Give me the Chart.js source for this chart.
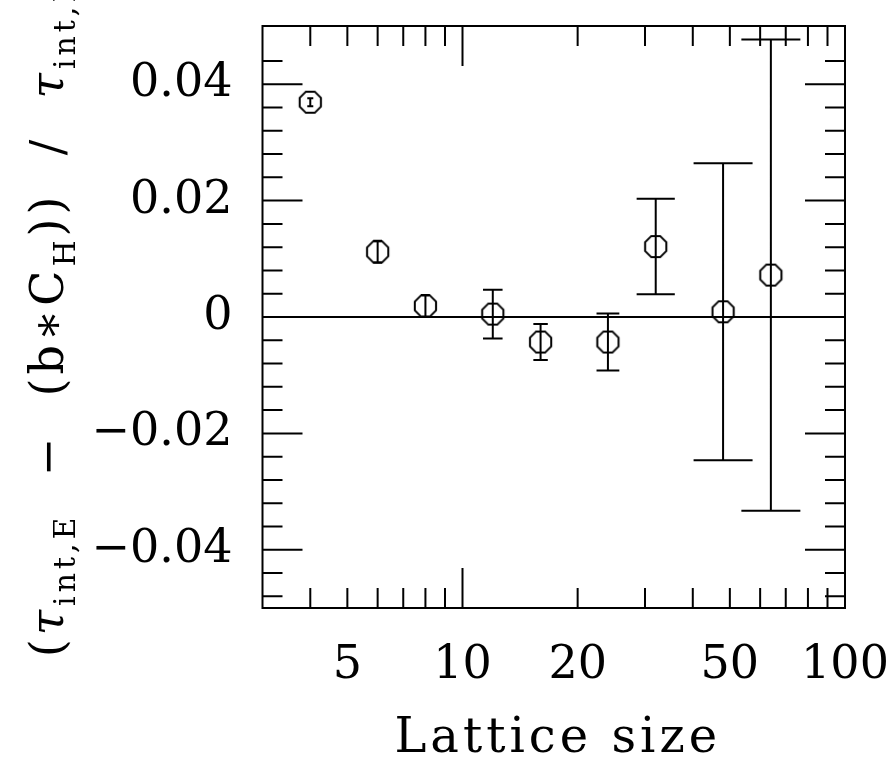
<!DOCTYPE html>
<html>
<head>
<meta charset="utf-8">
<script src="https://cdn.jsdelivr.net/npm/chart.js@4"></script>
<style>
  body { margin: 0; background: #fff; }
  canvas { display: block; }
</style>
</head>
<body>
<canvas id="myChart" width="894" height="764"></canvas>
<script>
// lattice sizes and the relative difference, with symmetric errors
const latticeSizes = [4, 6, 8, 12, 16, 24, 32, 48, 64];
const ratioValues = [0.0369, 0.0112, 0.0019, 0.0005, -0.0043, -0.0043, 0.0121, 0.0009, 0.0072];
const ratioErrors = [0.0007, 0.0019, 0.0019, 0.0042, 0.0031, 0.0049, 0.0082, 0.0255, 0.0405];

// tick labels
const xTickValues = [5, 10, 20, 50, 100];
const yTickValues = [-0.04, -0.02, 0, 0.02, 0.04];

const FONT = "'DejaVu Serif', serif";

// octagon marker, open
function makeOctagon(r) {
    const size = Math.ceil(r * 2 + 4);
    const c = document.createElement('canvas');
    c.width = size; c.height = size;
    const g = c.getContext('2d');
    g.strokeStyle = '#000';
    g.lineWidth = 2;
    g.beginPath();
    for (let k = 0; k < 8; k++) {
        const a = Math.PI / 8 + k * Math.PI / 4;
        const px = size / 2 + r * Math.cos(a);
        const py = size / 2 + r * Math.sin(a);
        if (k === 0) g.moveTo(px, py); else g.lineTo(px, py);
    }
    g.closePath();
    g.stroke();
    return c;
}

// frame, inside ticks, zero line, error bars and titles
const framePlugin = {
    id: 'frame',
    afterDatasetsDraw(chart) {
        const ctx = chart.ctx;
        const a = chart.chartArea;
        const xs = chart.scales.x, ys = chart.scales.y;
        ctx.save();
        ctx.strokeStyle = '#000';
        ctx.lineWidth = 2;
        ctx.lineCap = 'butt';
        ctx.beginPath();
        // zero line
        const y0 = ys.getPixelForValue(0);
        ctx.moveTo(a.left, y0); ctx.lineTo(a.right, y0);
        // error bars
        latticeSizes.forEach((n, i) => {
            const px = xs.getPixelForValue(n);
            const top = ys.getPixelForValue(ratioValues[i] + ratioErrors[i]);
            const bot = ys.getPixelForValue(ratioValues[i] - ratioErrors[i]);
            const half = (bot - top) / 2;
            const cap = Math.max(3, Math.min(0.4 * half, 29.5));
            ctx.moveTo(px, top); ctx.lineTo(px, bot);
            ctx.moveTo(px - cap, top); ctx.lineTo(px + cap, top);
            ctx.moveTo(px - cap, bot); ctx.lineTo(px + cap, bot);
        });
        // x ticks top and bottom
        for (let d = 1; d <= 10; d *= 10) {
            for (let m = 1; m <= 9; m++) {
                const v = m * d;
                if (v <= 3 || v >= 100) continue;
                const px = xs.getPixelForValue(v);
                const len = (m === 1) ? 40 : 20;
                ctx.moveTo(px, a.top); ctx.lineTo(px, a.top + len);
                ctx.moveTo(px, a.bottom); ctx.lineTo(px, a.bottom - len);
            }
        }
        // y ticks left and right
        for (let k = -12; k <= 11; k++) {
            const py = ys.getPixelForValue(k * 0.004);
            const len = (k % 5 === 0) ? 40 : 20;
            ctx.moveTo(a.left, py); ctx.lineTo(a.left + len, py);
            ctx.moveTo(a.right, py); ctx.lineTo(a.right - len, py);
        }
        ctx.stroke();
        ctx.strokeRect(a.left, a.top, a.right - a.left, a.bottom - a.top);
        ctx.restore();
    },
    afterDraw(chart) {
        const ctx = chart.ctx;
        const a = chart.chartArea;
        ctx.save();
        ctx.fillStyle = '#000';
        // x title
        ctx.font = '48px ' + FONT;
        ctx.letterSpacing = '4px';
        ctx.textAlign = 'center';
        ctx.textBaseline = 'alphabetic';
        ctx.fillText('Lattice size', (a.left + a.right) / 2 + 4, 752);
        // y title with subscripts, rotated
        const main = '46px ' + FONT, sub = '30px ' + FONT, tau = 'italic 46px ' + FONT;
        const parts = [
            ['(', main], ['\u03C4', tau], ['int,E', sub],
            ['  \u2212  (b\u2217C', main], ['H', sub],
            ['))  /  ', main], ['\u03C4', tau], ['int,E', sub]
        ];
        ctx.letterSpacing = '4px';
        ctx.textAlign = 'left';
        let total = 0;
        parts.forEach(p => { ctx.font = p[1]; total += ctx.measureText(p[0]).width; });
        ctx.translate(63, (a.top + a.bottom) / 2);
        ctx.rotate(-Math.PI / 2);
        let x = -total / 2;
        parts.forEach(p => {
            ctx.font = p[1];
            ctx.fillText(p[0], x, p[1] === sub ? 12 : 0);
            x += ctx.measureText(p[0]).width;
        });
        ctx.restore();
    }
};

const data = {
    datasets: [{
        data: latticeSizes.map((n, i) => ({ x: n, y: ratioValues[i] })),
        pointStyle: makeOctagon(11.5),
        pointRadius: 12,
        borderColor: '#000',
        showLine: false
    }]
};

const config = {
    type: 'scatter',
    data: data,
    options: {
        responsive: false,
        animation: false,
        layout: { padding: { top: 26, right: 49, left: 0, bottom: 0 } },
        plugins: { legend: { display: false }, tooltip: { enabled: false } },
        scales: {
            x: {
                type: 'logarithmic',
                min: 3,
                max: 100,
                grid: { display: false },
                border: { display: false },
                ticks: {
                    color: '#000',
                    font: { family: FONT, size: 46 },
                    padding: 22,
                    maxRotation: 0,
                    autoSkip: false,
                    callback: v => String(v)
                },
                afterBuildTicks: s => { s.ticks = xTickValues.map(v => ({ value: v })); },
                afterFit: s => { s.height = 156; s.paddingLeft = 0; s.paddingRight = 0; }
            },
            y: {
                min: -0.05,
                max: 0.05,
                grid: { display: false },
                border: { display: false },
                ticks: {
                    color: '#000',
                    font: { family: FONT, size: 46 },
                    padding: 22,
                    callback: v => v === 0 ? '0' : (v < 0 ? '\u2212' : '') + Math.abs(v).toFixed(2)
                },
                afterBuildTicks: s => { s.ticks = yTickValues.map(v => ({ value: v })); },
                afterFit: s => { s.width = 262.5; s.paddingTop = 0; s.paddingBottom = 0; }
            }
        }
    },
    plugins: [framePlugin]
};

const myChart = new Chart(document.getElementById('myChart').getContext('2d'), config);
</script>
</body>
</html>
